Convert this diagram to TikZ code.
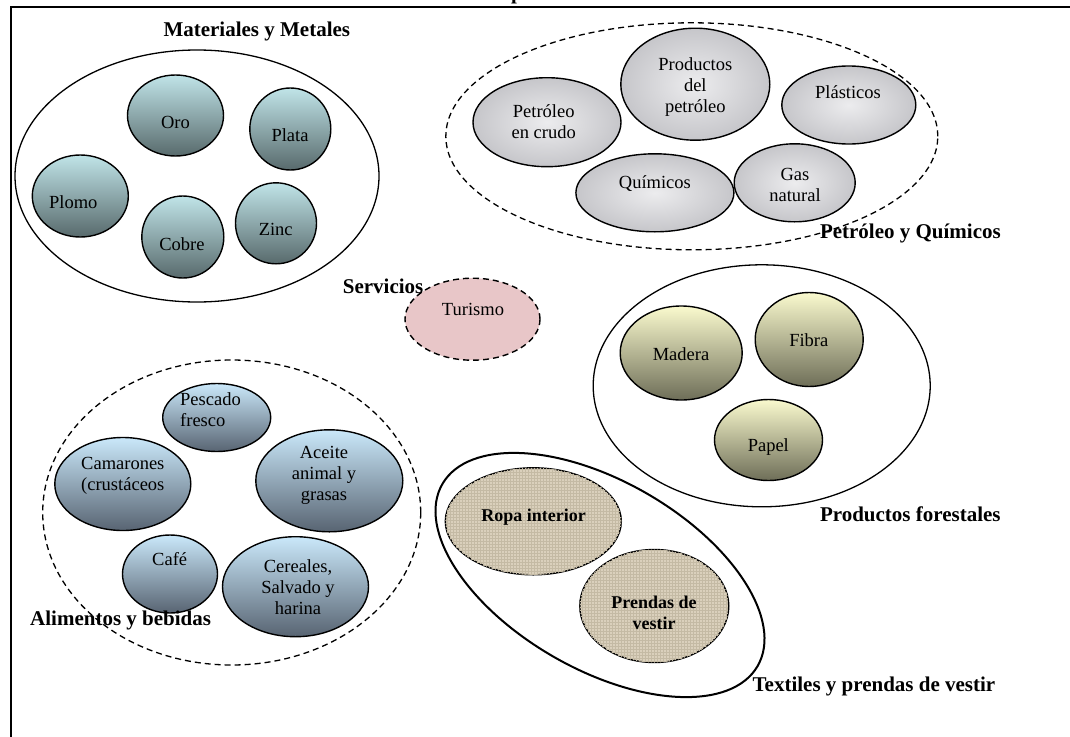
\documentclass[tikz,border=0pt]{standalone}
\usepackage{fontspec}
\setmainfont{Liberation Serif}
\usetikzlibrary{shapes.geometric,patterns}
\definecolor{metTop}{RGB}{192,228,232}
\definecolor{metBot}{RGB}{88,106,108}
\definecolor{foodTop}{RGB}{202,232,250}
\definecolor{foodBot}{RGB}{88,100,114}
\definecolor{forTop}{RGB}{250,250,206}
\definecolor{forBot}{RGB}{110,110,88}
\definecolor{oilFill}{RGB}{236,236,238}
\definecolor{oilDark}{RGB}{198,198,202}
\definecolor{turFill}{RGB}{232,198,200}
\definecolor{texFill}{RGB}{218,208,188}
\definecolor{texLine}{RGB}{196,186,164}
\begin{document}
\begin{tikzpicture}[x=1pt,y=-1pt,
  grp/.style={ellipse, draw, line width=1.3pt, inner sep=0pt, minimum width=#1},
  grpd/.style={grp=#1, dash pattern=on 6pt off 4pt},
  bub/.style={ellipse, draw, line width=1.4pt, inner sep=0pt},
  metal/.style={bub, top color=metTop, bottom color=metBot},
  food/.style={bub, top color=foodTop, bottom color=foodBot},
  forest/.style={bub, top color=forTop, bottom color=forBot},
  oil/.style={bub, inner color=oilFill, outer color=oilDark},
  textile/.style={bub, fill=texFill, postaction={pattern=grid, pattern color=texLine}},
  txt/.style={font=\fontsize{18.5}{21}\selectfont, align=center, inner sep=0pt},
  btxt/.style={font=\fontsize{18}{21}\bfseries\selectfont, align=center, inner sep=0pt},
  lbl/.style={font=\fontsize{21}{24}\bfseries\selectfont, inner sep=0pt, anchor=base west},
]
\useasboundingbox (0,0) rectangle (1070,736);
% frame
\coordinate (fTL) at (10.5,6.5);
\coordinate (fTR) at (1072,6.5);
\coordinate (fBL) at (10.5,738);
\draw[line width=2pt] (fBL) -- (fTL) -- (fTR);
\node[font=\fontsize{21}{24}\bfseries\selectfont, inner sep=0pt, anchor=base] (title) at (517,-0.5) {p};

% ---------- Materiales y Metales
\node[grp=364pt, minimum height=252pt] (gMet) at (197,176) {};
\node[lbl] (lMet) at (163.3,36.7) {Materiales y Metales};
\node[metal, minimum width=96pt, minimum height=81pt] (oro) at (175.5,115.5) {};
\node[metal, minimum width=81pt, minimum height=82pt] (plata) at (290.3,129) {};
\node[metal, minimum width=96pt, minimum height=82pt] (plomo) at (80.3,196) {};
\node[metal, minimum width=82pt, minimum height=82pt] (cobre) at (182.8,237) {};
\node[metal, minimum width=81pt, minimum height=81pt] (zinc) at (276,223.3) {};
\node[txt, anchor=base] (tOro) at (175.5,128) {Oro};
\node[txt, anchor=base] (tPlata) at (290,141.7) {Plata};
\node[txt, anchor=base] (tPlomo) at (73.3,208.3) {Plomo};
\node[txt, anchor=base] (tCobre) at (182,250) {Cobre};
\node[txt, anchor=base] (tZinc) at (275.7,235) {Zinc};

% ---------- Petroleo y Quimicos
\node[grpd=492pt, minimum height=227pt] (gOil) at (691.8,136.3) {};
\node[oil, minimum width=148pt, minimum height=89pt] (crudo) at (547,122.2) {};
\node[oil, minimum width=149pt, minimum height=112pt] (prod) at (695.3,84.2) {};
\node[oil, minimum width=134pt, minimum height=78pt] (plast) at (848.8,105) {};
\node[oil, minimum width=158pt, minimum height=78pt] (quim) at (654.9,192.8) {};
\node[oil, minimum width=121pt, minimum height=78pt] (gas) at (794.7,182.8) {};
\node[txt] (tCrudo) at (543.7,121.3) {Petróleo\\en crudo};
\node[txt] (tProd) at (695.3,87) {Productos\\del\\petróleo};
\node[txt, anchor=base] (tPlast) at (848,98.3) {Plásticos};
\node[txt, anchor=base] (tQuim) at (654.9,188.3) {Químicos};
\node[txt] (tGas) at (795,184.5) {Gas\\natural};
\node[lbl] (lOil) at (819.8,238.3) {Petróleo y Químicos};

% ---------- Servicios
\node[bub, dash pattern=on 6pt off 4pt, fill=turFill, minimum width=135pt, minimum height=82pt] (tur) at (472.5,319.2) {};
\node[txt, anchor=base] (tTur) at (473,315) {Turismo};
\node[lbl] (lServ) at (342.7,293.3) {Servicios};

% ---------- Productos forestales
\node[grp=337pt, minimum height=242pt] (gFor) at (761.7,385.8) {};
\node[forest, minimum width=122pt, minimum height=94pt] (madera) at (681.2,353) {};
\node[forest, minimum width=108pt, minimum height=94pt] (fibra) at (809.2,339.5) {};
\node[forest, minimum width=108pt, minimum height=81pt] (papel) at (768.5,440) {};
\node[txt, anchor=base] (tMadera) at (681,360) {Madera};
\node[txt, anchor=base] (tFibra) at (808.8,346.7) {Fibra};
\node[txt, anchor=base] (tPapel) at (768.3,451.7) {Papel};
\node[lbl] (lFor) at (819.8,521) {Productos forestales};

% ---------- Alimentos y bebidas
\node[grpd=378pt, minimum height=305pt] (gFood) at (231.7,512.5) {};
\node[food, minimum width=108pt, minimum height=68pt] (pescado) at (216.7,417.5) {};
\node[food, minimum width=136pt, minimum height=93pt] (camar) at (122.8,484) {};
\node[food, minimum width=147pt, minimum height=102pt] (aceite) at (329.3,480.8) {};
\node[food, minimum width=95pt, minimum height=78pt] (cafe) at (170,574) {};
\node[food, minimum width=146pt, minimum height=100pt] (cereal) at (295.5,586.7) {};
\node[txt, align=left, anchor=west] (tPescado) at (180,409.5) {Pescado\\fresco};
\node[txt, align=left, anchor=west] (tCamar) at (81,475.5) {Camarones\\(crustáceos};
\node[txt] (tAceite) at (324,475.4) {Aceite\\animal y\\grasas};
\node[txt, anchor=base] (tCafe) at (169.7,565) {Café};
\node[txt] (tCereal) at (298,587) {Cereales,\\Salvado y\\harina};
\node[lbl] (lFood) at (30,625) {Alimentos y bebidas};

% ---------- Textiles y prendas de vestir
\node[ellipse, draw, line width=2pt, inner sep=0pt, minimum width=364pt, minimum height=188pt, rotate=-30] (gTex) at (600,575) {};
\node[textile, minimum width=176pt, minimum height=107pt] (ropa) at (533.3,521.3) {};
\node[textile, minimum width=149pt, minimum height=113pt] (prendas) at (654.3,606) {};
\node[btxt, anchor=base] (tRopa) at (533.5,521) {Ropa interior};
\node[btxt] (tPrendas) at (654,612.6) {Prendas de\\vestir};
\node[lbl] (lTex) at (752.4,691.7) {Textiles y prendas de vestir};
\end{tikzpicture}
\end{document}
